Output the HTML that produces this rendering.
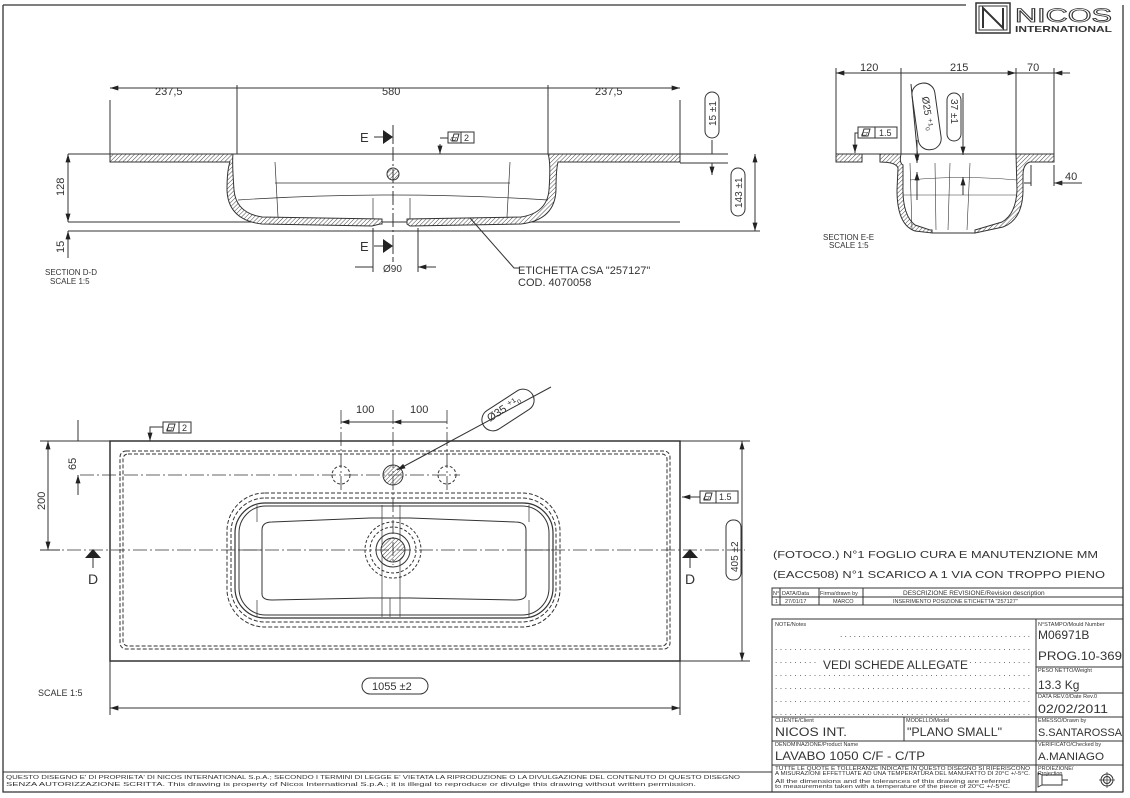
<!DOCTYPE html>
<html><head><meta charset="utf-8"><style>
html,body{margin:0;padding:0;background:#fff}
svg{display:block;font-family:"Liberation Sans",sans-serif}
text{fill:#333}
text.o{fill:none;stroke:#333;stroke-width:0.8}
</style></head><body>
<svg width="1130" height="798" viewBox="0 0 1130 798" xmlns="http://www.w3.org/2000/svg">
<defs>
<pattern id="h" patternUnits="userSpaceOnUse" width="3" height="3" patternTransform="rotate(45)">
<rect width="3" height="3" fill="#fff"/><line x1="0" y1="0" x2="0" y2="3" stroke="#444" stroke-width="1"/>
</pattern>
<marker id="a" viewBox="0 0 10 6" refX="10" refY="3" markerWidth="9" markerHeight="5" orient="auto-start-reverse"><path d="M0 0L10 3L0 6z" fill="#222"/></marker>
</defs>
<g stroke="#333" fill="none" stroke-width="1">
<path d="M3 5H966M1123 5V792M3 5V792H1123" stroke-width="1.3"/>
<line x1="3" y1="772" x2="772" y2="772"/>
<rect x="976" y="3" width="34" height="30" stroke-width="1.5"/>
<rect x="979" y="6" width="28" height="24"/>
<path d="M983 28V8L1003 28V8" stroke-width="2"/>

<line x1="68" y1="154" x2="728" y2="154"/>
<line x1="68" y1="222" x2="680" y2="222"/>
<line x1="68" y1="231" x2="760" y2="231"/>
<path d="M110 154H233Q232 162 234 190Q236 213 262 217L382 219V224H380L372 226L262 224Q228 220 227 190Q227 170 230 162H110Z" fill="url(#h)"/>
<path d="M548 154H680V162H558Q556 170 556 190Q555 220 521 224L410 226L407 224V219L521 217Q547 213 549 190Q551 162 548 154Z" fill="url(#h)"/>
<path d="M110 154V100M237 154V85M548 154V85M680 154V100"/>
<path d="M110 88H237M237 88H548M548 88H680" marker-start="url(#a)" marker-end="url(#a)"/>
<path d="M275 162L278 217M510 162L507 217M275 183H510M238 200Q390 190 548 200M373 198V219M410 198V219" stroke-width="0.7"/>
<circle cx="393" cy="174" r="6" fill="url(#h)"/>
<line x1="393" y1="125" x2="393" y2="262" stroke-dasharray="14 3 2 3"/>
<path d="M68 154V222" marker-start="url(#a)" marker-end="url(#a)"/>
<path d="M68 231V258" marker-start="url(#a)"/>
<path d="M712 140V154M712 163V175" marker-end="url(#a)"/>
<line x1="680" y1="163" x2="728" y2="163"/>
<path d="M755 154V231" marker-start="url(#a)" marker-end="url(#a)"/>
<rect x="705" y="92" width="14" height="46" rx="7"/>
<rect x="731" y="168" width="14" height="48" rx="7"/>
<path d="M373 228V272M418 228V272"/>
<path d="M355 267H373M436 267H418" marker-end="url(#a)"/>
<path d="M470 218L514 268H520" />
<path d="M440 144V154" marker-end="url(#a)"/>
<path d="M440 138H448"/>
<rect x="448" y="132" width="26" height="11"/><line x1="461" y1="132" x2="461" y2="143"/>
<path d="M452 141L454 134H459L457 141Z"/>
<path d="M374 137H384"/><path d="M374 246H384"/>

<path d="M836 154V68M901 154V68M1016 154V68M1054 154V68"/>
<path d="M836 73H901M901 73H1016" marker-start="url(#a)" marker-end="url(#a)"/>
<path d="M1054 73H1070M1016 73H1054" marker-start="url(#a)"/>
<line x1="836" y1="154" x2="1054" y2="154"/>
<path d="M836 154H862V162H836ZM880 154H901Q899 163 903 165V185Q902 215 915 225L930 230H932V233L915 231Q897 225 897 190L898 168Q896 162 880 162Z" fill="url(#h)"/>
<path d="M1016 154H1054V162H1030Q1023 164 1023 175V192Q1022 220 1003 227L975 233V230L1002 222Q1016 214 1017 190Z" fill="url(#h)"/>
<path d="M932 233L975 233" />
<path d="M910 163L912 230M935 163L936 230M950 163L948 230M970 163L967 230M903 195H1017M910 180Q960 175 1017 180" stroke-width="0.6"/>
<path d="M911 84L918 160" />
<path d="M917 140V163" marker-end="url(#a)"/><path d="M917 200V172" marker-end="url(#a)"/>
<path d="M963 93V155" marker-end="url(#a)"/><path d="M963 195V177" marker-end="url(#a)"/>
<rect x="915" y="83" width="23" height="67" rx="11" transform="rotate(-8 926 116)"/>
<rect x="947" y="93" width="14" height="48" rx="7"/>
<path d="M1031 165V186M1054 165V186"/>
<path d="M1024 183H1031M1062 183H1054" marker-end="url(#a)"/><path d="M1054 183H1082"/>
<path d="M858 133H855V153" marker-end="url(#a)"/>
<rect x="858" y="127" width="39" height="11"/><line x1="875" y1="127" x2="875" y2="138"/>
<path d="M862 136L864 129H870L868 136Z"/>

<rect x="110" y="441" width="570" height="220" stroke-width="1.5"/>
<rect x="120" y="451" width="550" height="198" rx="6" stroke-dasharray="4 2"/>
<rect x="123" y="454" width="544" height="192" rx="5" stroke-dasharray="4 2"/>
<rect x="227" y="493" width="333" height="134" rx="38" stroke-dasharray="4 2"/>
<rect x="231" y="498" width="325" height="124" rx="34" stroke-dasharray="4 2"/>
<rect x="235" y="503" width="318" height="115" rx="30" stroke-width="1.2"/>
<rect x="239" y="506" width="310" height="109" rx="27"/>
<path d="M262 530Q262 522 272 522L370 518L410 518L515 522Q526 522 526 530V594Q526 600 515 600L410 598H370L272 600Q262 600 262 594Z"/>
<path d="M257 505V522M529 505V522M257 600V617M529 600V617M239 550H262M526 550H550M382 505V617M400 505V617M390 598V617" stroke-width="0.7"/>
<circle cx="393" cy="550" r="12" fill="url(#h)"/>
<circle cx="393" cy="550" r="17"/>
<circle cx="393" cy="550" r="23" stroke-dasharray="3 2"/>
<circle cx="393" cy="550" r="28" stroke-dasharray="3 2"/>
<circle cx="393" cy="475" r="10" fill="url(#h)"/>
<circle cx="341" cy="475" r="9" stroke-dasharray="3 2"/>
<circle cx="447" cy="475" r="9" stroke-dasharray="3 2"/>
<path d="M45 550H745M393 410V565M341 410V490M447 410V490M80 475H460" stroke-dasharray="14 3 2 3" stroke-width="0.8"/>
<path d="M341 422H393M447 422H393" marker-start="url(#a)" marker-end="url(#a)"/>
<path d="M551 387L397 470" marker-end="url(#a)"/>
<rect x="479" y="399" width="58" height="22" rx="11" transform="rotate(-33 508 410)"/>
<path d="M78 420V441M78 495V475" marker-end="url(#a)"/>
<path d="M40 441H110M40 550H60"/>
<path d="M48 441V550" marker-start="url(#a)" marker-end="url(#a)"/>
<path d="M680 441H750M680 661H750"/>
<path d="M742 441V661" marker-start="url(#a)" marker-end="url(#a)"/>
<rect x="726" y="520" width="15" height="60" rx="7"/>
<path d="M110 661V715M680 661V715"/>
<path d="M110 708H680" marker-start="url(#a)" marker-end="url(#a)"/>
<rect x="362" y="678" width="66" height="16" rx="8"/>
<path d="M163 427H150V441" marker-end="url(#a)"/>
<rect x="163" y="422" width="28" height="11"/><line x1="179" y1="422" x2="179" y2="433"/>
<path d="M167 431L169 424H175L173 431Z"/>
<path d="M700 497H682" marker-end="url(#a)"/>
<rect x="700" y="491" width="38" height="12"/><line x1="716" y1="491" x2="716" y2="503"/>
<path d="M704 500L706 493H712L710 500Z"/>

<rect x="772" y="588" width="351" height="17"/>
<path d="M772 597H1123M780 588V605M819 588V605M863 588V605"/>
<rect x="772" y="619" width="351" height="173"/>
<path d="M1036 619V792M1036 667H1123M1036 693H1123M772 717H1123M772 741H1123M772 765H1123M904 717V741"/>
<path d="M1042 785H1062V775H1042ZM1062 780H1068M1042 775L1038 773V787L1042 785" stroke-width="0.9"/>
<circle cx="1107" cy="780" r="6"/><circle cx="1107" cy="780" r="3.5"/><path d="M1099 780H1115M1107 772V788" stroke-width="0.7"/>
</g>
<g fill="#222">
<path d="M383 130L393 137L383 144Z"/><path d="M383 239L393 246L383 253Z"/>
<path d="M85 558L93 549L101 558Z"/><path d="M682 558L690 549L698 558Z"/>
</g>
<g stroke="#333" stroke-width="1"><path d="M93 558V568M690 558V568M393 130V144M393 239V253"/></g>

<g font-size="11">
<text class="o" x="1015" y="22" font-size="19" textLength="97" lengthAdjust="spacingAndGlyphs">NICOS</text>
<text x="1015" y="32" font-size="8.5" font-weight="bold" textLength="97" lengthAdjust="spacingAndGlyphs">INTERNATIONAL</text>

<text x="155" y="95">237,5</text><text x="382" y="95">580</text><text x="595" y="95">237,5</text>
<text x="360" y="142" font-size="13">E</text><text x="360" y="251" font-size="13">E</text>
<text x="450" y="141" font-size="9">▱</text><text x="464" y="141" font-size="9">2</text>
<text transform="translate(64,196) rotate(-90)">128</text>
<text transform="translate(64,253) rotate(-90)">15</text>
<text transform="translate(716,126) rotate(-90)" font-size="10">15 ±1</text>
<text transform="translate(742,208) rotate(-90)" font-size="10">143 ±1</text>
<text x="383" y="272" font-size="10">Ø90</text>
<text x="518" y="274">ETICHETTA CSA "257127"</text>
<text x="518" y="286">COD. 4070058</text>
<text x="45" y="275" font-size="8">SECTION D-D</text><text x="50" y="284" font-size="8">SCALE 1:5</text>

<text x="860" y="71">120</text><text x="950" y="71">215</text><text x="1027" y="71">70</text>
<text x="1065" y="180">40</text>
<text x="861" y="136" font-size="9">▱</text><text x="879" y="136" font-size="9">1.5</text>
<text transform="translate(922,97) rotate(82)" font-size="10">Ø25 ⁺¹₀</text>
<text transform="translate(951,99) rotate(90)" font-size="10">37 ±1</text>
<text x="823" y="240" font-size="8">SECTION E-E</text><text x="829" y="248" font-size="8">SCALE 1:5</text>

<text x="356" y="413">100</text><text x="410" y="413">100</text>
<text transform="translate(490,422) rotate(-33)" font-size="11">Ø35 ⁺¹₀</text>
<text transform="translate(76,470) rotate(-90)">65</text>
<text transform="translate(45,510) rotate(-90)">200</text>
<text transform="translate(738,572) rotate(-90)" font-size="10">405 ±2</text>
<text x="372" y="690">1055 ±2</text>
<text x="166" y="431" font-size="9">▱</text><text x="182" y="431" font-size="9">2</text>
<text x="703" y="500" font-size="9">▱</text><text x="719" y="500" font-size="9">1.5</text>
<text x="88" y="584" font-size="14">D</text><text x="685" y="584" font-size="14">D</text>
<text x="38" y="696" font-size="9">SCALE 1:5</text>

<text x="773" y="558" font-size="10.5" textLength="325" lengthAdjust="spacingAndGlyphs">(FOTOCO.) N°1 FOGLIO CURA E MANUTENZIONE MM</text>
<text x="773" y="578" font-size="10.5" textLength="332" lengthAdjust="spacingAndGlyphs">(EACC508) N°1 SCARICO A 1 VIA CON TROPPO PIENO</text>

<g font-size="5.5">
<text x="773" y="595">N°</text><text x="782" y="595">DATA/Data</text><text x="820" y="595">Firma/drawn by</text>
<text x="903" y="595" font-size="6.5">DESCRIZIONE REVISIONE/Revision description</text>
<text x="775" y="603">1</text><text x="785" y="603">27/01/17</text><text x="833" y="603">MARCO</text>
<text x="893" y="603">INSERIMENTO POSIZIONE ETICHETTA "257127"</text>
<text x="775" y="626">NOTE/Notes</text>
<text x="1038" y="626">N°STAMPO/Mould Number</text>
<text x="1038" y="672">PESO NETTO/Weight</text>
<text x="1038" y="698">DATA REV.0/Date Rev.0</text>
<text x="775" y="722">CLIENTE/Client</text><text x="906" y="722">MODELLO/Model</text>
<text x="1038" y="722">EMESSO/Drawn by</text>
<text x="775" y="746">DENOMINAZIONE/Product Name</text>
<text x="1038" y="746">VERIFICATO/Checked by</text>
<text x="775" y="770" font-size="5" textLength="255" lengthAdjust="spacingAndGlyphs">TUTTE LE QUOTE E TOLLERANZE INDICATE IN QUESTO DISEGNO SI RIFERISCONO</text>
<text x="775" y="775" font-size="5" textLength="255" lengthAdjust="spacingAndGlyphs">A MISURAZIONI EFFETTUATE AD UNA TEMPERATURA DEL MANUFATTO DI 20°C +/-5°C.</text>
<text x="775" y="783" font-size="5" textLength="235" lengthAdjust="spacingAndGlyphs">All the dimensions and the tolerances of this drawing are referred</text>
<text x="775" y="788" font-size="5" textLength="235" lengthAdjust="spacingAndGlyphs">to measurements taken with a temperature of the piece of 20°C +/-5°C.</text>
<text x="1038" y="770">PROIEZIONE/</text><text x="1038" y="775">Projection</text>
</g>
<g font-size="8" fill="#555">
<text x="840" y="637" textLength="190" lengthAdjust="spacing">..........................................</text>
<text x="775" y="650" textLength="255" lengthAdjust="spacing">.....................................................</text>
<text x="775" y="663" textLength="255" lengthAdjust="spacing">.....................................................</text>
<text x="775" y="676" textLength="255" lengthAdjust="spacing">.....................................................</text>
<text x="775" y="689" textLength="255" lengthAdjust="spacing">.....................................................</text>
<text x="775" y="702" textLength="255" lengthAdjust="spacing">.....................................................</text>
<text x="775" y="715" textLength="255" lengthAdjust="spacing">.....................................................</text>
</g>
<rect x="818" y="659" width="150" height="12" fill="#fff"/>
<text x="823" y="669" font-size="11.5" textLength="145" lengthAdjust="spacingAndGlyphs">VEDI SCHEDE ALLEGATE</text>
<text x="1038" y="639" font-size="12">M06971B</text>
<text x="1038" y="660" font-size="12" fill="#555" textLength="84" lengthAdjust="spacingAndGlyphs">PROG.10-369</text>
<text x="1038" y="689" font-size="12">13.3 Kg</text>
<text x="1038" y="713" font-size="12" textLength="70" lengthAdjust="spacingAndGlyphs">02/02/2011</text>
<text x="775" y="736" font-size="12" textLength="72" lengthAdjust="spacingAndGlyphs">NICOS INT.</text>
<text x="907" y="736" font-size="12" textLength="95" lengthAdjust="spacingAndGlyphs">"PLANO SMALL"</text>
<text x="1038" y="736" font-size="11" textLength="84" lengthAdjust="spacingAndGlyphs">S.SANTAROSSA</text>
<text x="775" y="760" font-size="12" textLength="150" lengthAdjust="spacingAndGlyphs">LAVABO 1050 C/F - C/TP</text>
<text x="1038" y="760" font-size="11" textLength="66" lengthAdjust="spacingAndGlyphs">A.MANIAGO</text>

<text x="6" y="779" font-size="5.6" textLength="734" lengthAdjust="spacingAndGlyphs">QUESTO DISEGNO E' DI PROPRIETA' DI NICOS INTERNATIONAL S.p.A.; SECONDO I TERMINI DI LEGGE E' VIETATA LA RIPRODUZIONE O LA DIVULGAZIONE DEL CONTENUTO DI QUESTO DISEGNO</text>
<text x="6" y="786" font-size="5.6" textLength="690" lengthAdjust="spacingAndGlyphs">SENZA AUTORIZZAZIONE SCRITTA. This drawing is property of Nicos International S.p.A.; it is illegal to reproduce or divulge this drawing without written permission.</text>
</g>
</svg>
</body></html>
